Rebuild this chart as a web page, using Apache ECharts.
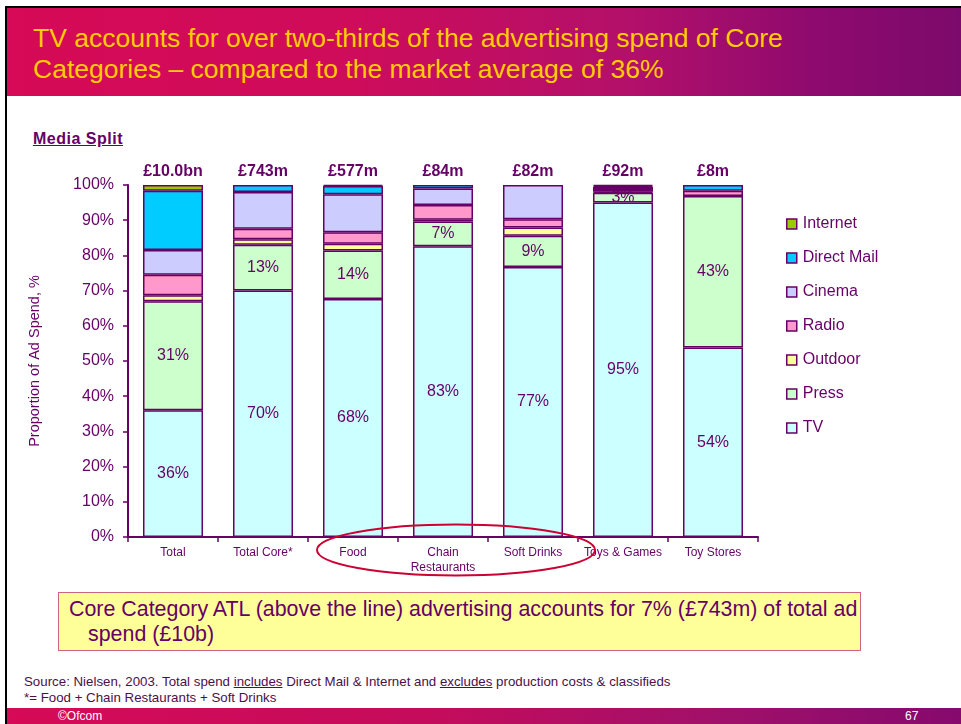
<!DOCTYPE html>
<html>
<head>
<meta charset="utf-8">
<title>Media Split</title>
<script src="https://cdn.jsdelivr.net/npm/echarts@6/dist/echarts.min.js"></script>
<style>
  html, body { margin: 0; padding: 0; background: #fff; }
  body { width: 961px; height: 724px; position: relative; overflow: hidden; font-family: "Liberation Sans", Arial, sans-serif; }
  .frame-top { position: absolute; left: 5px; top: 6px; width: 956px; height: 2px; background: #000; }
  .frame-left { position: absolute; left: 5px; top: 6px; width: 2px; height: 718px; background: #000; }
  .banner { position: absolute; left: 7px; top: 8px; width: 954px; height: 88px;
    background: linear-gradient(90deg, #d60a57 0%, #cf0c5a 35%, #b3106a 65%, #8e0a6e 85%, #7c0a6c 100%); }
  .title { position: absolute; left: 33px; top: 23px; color: #ffcc00; font-size: 26.5px; line-height: 31px; }
  .subhead { position: absolute; left: 33px; top: 130px; color: #660066; font-size: 16px; font-weight: bold; text-decoration: underline; letter-spacing: 0.5px; }
  .callout { position: absolute; left: 58px; top: 592px; width: 803px; height: 59px; background: #ffff99; border: 1px solid #cc6680;
    color: #660066; font-size: 21.4px; line-height: 25px; box-sizing: border-box; padding: 4px 0 0 10px; white-space: nowrap; }
  .callout .indent { padding-left: 19px; }
  .source { position: absolute; left: 24px; top: 674px; color: #4a1048; font-size: 13.3px; line-height: 16px; white-space: nowrap; }
  .footer { position: absolute; left: 7px; top: 708px; width: 954px; height: 16px;
    background: linear-gradient(90deg, #d60a57 0%, #c40c5c 45%, #a0106a 75%, #86096d 100%); color: #fff; font-size: 12px; }
  .footer .l { position: absolute; left: 51px; top: 1px; }
  .footer .r { position: absolute; left: 898px; top: 1px; }
  #chart { position: absolute; left: 0; top: 0; width: 961px; height: 724px; }
</style>
</head>
<body>
<div class="frame-top"></div>
<div class="frame-left"></div>
<div class="banner"></div>
<div class="title">TV accounts for over two-thirds of the advertising spend of Core<br>Categories – compared to the market average of 36%</div>
<div class="subhead">Media Split</div>
<div class="callout">Core Category ATL (above the line) advertising accounts for 7% (£743m) of total ad<br><span class="indent">spend (£10b)</span></div>
<div class="source">Source: Nielsen, 2003. Total spend <u>includes</u> Direct Mail &amp; Internet and <u>excludes</u> production costs &amp; classifieds<br>*= Food + Chain Restaurants + Soft Drinks</div>
<div class="footer"><span class="l">©Ofcom</span><span class="r">67</span></div>
<div id="chart"></div>
<script>
// Categories and total spend per category
const categories = ['Total', 'Total Core*', 'Food', 'Chain\nRestaurants', 'Soft Drinks', 'Toys & Games', 'Toy Stores'];
const spendLabels = ['£10.0bn', '£743m', '£577m', '£84m', '£82m', '£92m', '£8m'];

// Share of ad spend by medium (%), one value per category
const tv         = [36.0, 70.0, 67.6, 82.6, 76.7, 95.0, 53.8];
const press      = [31.0, 13.0, 13.8,  7.0,  8.9,  2.8, 43.1];
const outdoor    = [ 1.7,  1.6,  1.9,  0.5,  2.3,  0.3,  0.0];
const radio      = [ 5.8,  3.0,  3.3,  4.2,  2.4,  0.5,  1.5];
const cinema     = [ 7.0, 10.4, 10.8,  4.7,  9.7,  0.8,  0.0];
const directMail = [16.9,  2.0,  2.3,  1.0,  0.0,  0.3,  1.6];
const internet   = [ 1.6,  0.0,  0.3,  0.0,  0.0,  0.3,  0.0];

const yTicks = [0, 10, 20, 30, 40, 50, 60, 70, 80, 90, 100];

const ink = '#660066';
const media = [
  { name: 'TV',          data: tv,         color: '#ccffff', label: true },
  { name: 'Press',       data: press,      color: '#ccffcc', label: true },
  { name: 'Outdoor',     data: outdoor,    color: '#ffff99', label: false },
  { name: 'Radio',       data: radio,      color: '#ff99cc', label: false },
  { name: 'Cinema',      data: cinema,     color: '#ccccff', label: false },
  { name: 'Direct Mail', data: directMail, color: '#00ccff', label: false },
  { name: 'Internet',    data: internet,   color: '#99cc00', label: false }
];

const chart = echarts.init(document.getElementById('chart'), null, { renderer: 'canvas' });

chart.setOption({
  backgroundColor: 'transparent',
  animation: false,
  textStyle: { fontFamily: '"Liberation Sans", Arial, sans-serif' },
  grid: { left: 128, right: 203, top: 185, bottom: 187, containLabel: false },
  legend: {
    orient: 'vertical',
    left: 781,
    top: 211,
    itemWidth: 10,
    itemHeight: 10,
    itemGap: 18,
    icon: 'rect',
    data: media.map(m => m.name).reverse(),
    textStyle: { color: ink, fontSize: 16, padding: [0, 0, 0, 1] },
    itemStyle: { borderColor: ink, borderWidth: 1.5 }
  },
  xAxis: [
    {
      type: 'category',
      data: categories,
      position: 'bottom',
      axisLine: { lineStyle: { color: ink, width: 2 } },
      axisTick: { show: true, length: 5, lineStyle: { color: ink, width: 1.5 } },
      axisLabel: { color: ink, fontSize: 12, margin: 8, lineHeight: 15, interval: 0 }
    },
    {
      type: 'category',
      data: spendLabels,
      position: 'top',
      axisLine: { show: false },
      axisTick: { show: false },
      axisLabel: { color: ink, fontSize: 16, fontWeight: 'bold', margin: 5, interval: 0 }
    }
  ],
  yAxis: {
    type: 'value',
    min: yTicks[0],
    max: yTicks[yTicks.length - 1],
    interval: yTicks[1] - yTicks[0],
    name: 'Proportion of Ad Spend, %',
    nameLocation: 'middle',
    nameGap: 86,
    nameTextStyle: { color: ink, fontSize: 14.5 },
    axisLine: { show: true, lineStyle: { color: ink, width: 2 } },
    axisTick: { show: true, length: 5, lineStyle: { color: ink, width: 1.5 } },
    splitLine: { show: false },
    axisLabel: { color: ink, fontSize: 16, margin: 14, formatter: '{value}%' }
  },
  series: media.map(m => ({
    name: m.name,
    type: 'bar',
    stack: 'share',
    xAxisIndex: 0,
    barWidth: 60,
    // a medium with no spend in a category leaves no segment
    data: m.data.map(v => (v > 0 ? v : '-')),
    itemStyle: { color: m.color, borderColor: ink, borderWidth: 1.5 },
    emphasis: { disabled: true },
    label: {
      show: m.label,
      position: 'inside',
      color: ink,
      fontSize: 16,
      formatter: p => Math.round(p.value) + '%'
    }
  })),
  graphic: [
    {
      type: 'ellipse',
      z: 100,
      shape: { cx: 456, cy: 550, rx: 139, ry: 25.5 },
      style: { fill: 'none', stroke: '#cc0033', lineWidth: 2 }
    }
  ]
});
</script>
</body>
</html>
